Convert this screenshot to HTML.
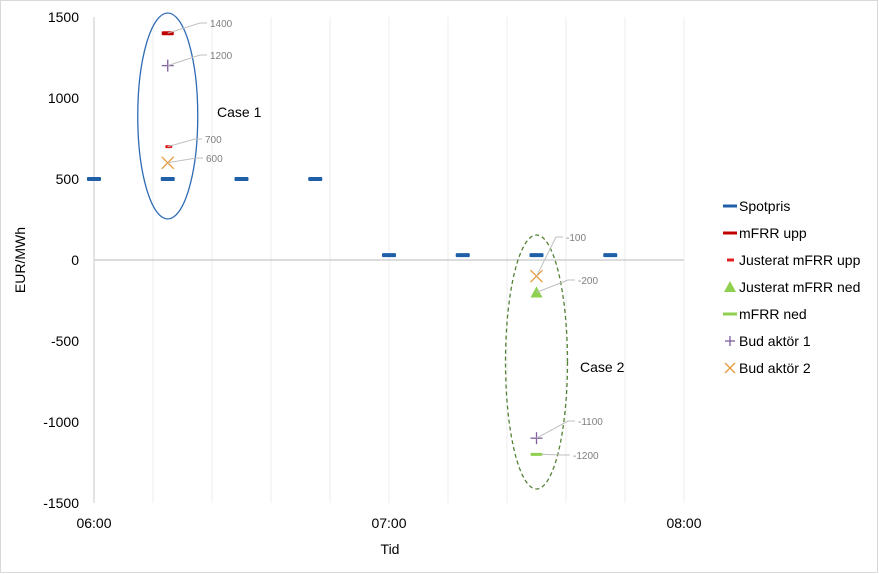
<!DOCTYPE html>
<html><head><meta charset="utf-8"><style>
html,body{margin:0;padding:0;background:#fff;}
svg{display:block;font-family:"Liberation Sans",sans-serif;}
</style></head><body>
<svg id="c" width="879" height="574" viewBox="0 0 879 574" xmlns="http://www.w3.org/2000/svg">
<rect x="0.5" y="0.5" width="877" height="572" fill="#fff" stroke="#d9d9d9"/>
<g id="grid"></g>
<g id="axes"></g>
<g id="marks"></g>
<g id="legend"></g>
</svg>
<script>
const yTicks=[1500,1000,500,0,-500,-1000,-1500];
const xTickMinutes=[0,60,120];
const xTickLabels=["06:00","07:00","08:00"];
const spotTimes=[0,15,30,45,60,75,90,105];
const spotValues=[500,500,500,500,30,30,30,30];
const mfrrUppTimes=[15];const mfrrUppValues=[1400];
const justUppTimes=[15];const justUppValues=[700];
const justNedTimes=[90];const justNedValues=[-200];
const mfrrNedTimes=[90];const mfrrNedValues=[-1200];
const bud1Times=[15,90];const bud1Values=[1200,-1100];
const bud2Times=[15,90];const bud2Values=[600,-100];

const NS="http://www.w3.org/2000/svg";
const X=m=>94+m*295/60;
const Y=v=>260-v*243/1500;
function mk(tag,attrs,parent){const e=document.createElementNS(NS,tag);for(const k in attrs)e.setAttribute(k,attrs[k]);parent.appendChild(e);return e;}
const grid=document.getElementById('grid'),axes=document.getElementById('axes'),marks=document.getElementById('marks'),legend=document.getElementById('legend');

for(let m=12;m<=120;m+=12){
  const l=mk('line',{x1:X(m),x2:X(m),y1:Y(1500),y2:Y(-1500),stroke:'#ececec','stroke-width':1},grid);
  
  
}
let a=mk('line',{x1:X(0),x2:X(0),y1:Y(1500),y2:Y(-1500),stroke:'#c8c8c8','stroke-width':1},axes);


a=mk('line',{x1:X(0),x2:X(120),y1:Y(0),y2:Y(0),stroke:'#d0d0d0','stroke-width':1.5},axes);


yTicks.forEach(v=>{const t=mk('text',{x:79,y:Y(v)+5,'text-anchor':'end','font-size':14,fill:'#000'},axes);t.textContent=v;
  
  });
xTickMinutes.forEach((m,i)=>{const t=mk('text',{x:X(m),y:528,'text-anchor':'middle','font-size':14,fill:'#000'},axes);t.textContent=xTickLabels[i];
  
  });
let t=mk('text',{x:390,y:554,'text-anchor':'middle','font-size':14},axes);t.textContent='Tid';


t=mk('text',{x:0,y:0,'text-anchor':'middle','font-size':14,transform:'translate(25,260) rotate(-90)'},axes);t.textContent='EUR/MWh';



function dash(x,y,c,w,h,name){const r=mk('rect',{x:x-w/2,y:y-h/2,width:w,height:h,fill:c,rx:1},marks);
  
  return r;}
function plus(x,y,c,s,name,p){const g=mk('g',{stroke:c,'stroke-width':1.3},p||marks);
  mk('line',{x1:x-s,x2:x+s,y1:y,y2:y},g);mk('line',{x1:x,x2:x,y1:y-s,y2:y+s},g);
  
  }
function cross(x,y,c,s,name,p){const g=mk('g',{stroke:c,'stroke-width':1.3},p||marks);
  mk('line',{x1:x-s,x2:x+s,y1:y-s,y2:y+s},g);mk('line',{x1:x-s,x2:x+s,y1:y+s,y2:y-s},g);
  
  }
function tri(x,y,c,s,name,p){const e=mk('polygon',{points:`${x},${y-s} ${x+s},${y+s*0.85} ${x-s},${y+s*0.85}`,fill:c},p||marks);
  
  }
function label(px,py,lx,ly,txt){
  const g=mk('g',{},marks);
  mk('polyline',{points:`${px},${py} ${lx-10},${ly} ${lx-3},${ly}`,fill:'none',stroke:'#bfbfbf','stroke-width':1},g);
  const tt=mk('text',{x:lx,y:ly+4,'font-size':10,fill:'#7f7f7f'},g);tt.textContent=txt;
  
  }

// ellipses
let e=mk('ellipse',{cx:X(15),cy:116,rx:30,ry:103,fill:'none',stroke:'#2e6bb3','stroke-width':1.3},marks);


e=mk('ellipse',{cx:X(90),cy:362,rx:31,ry:127,fill:'none',stroke:'#548235','stroke-width':1.3,'stroke-dasharray':'4 3'},marks);


t=mk('text',{x:217,y:117,'font-size':14},marks);t.textContent='Case 1';


t=mk('text',{x:580,y:372,'font-size':14},marks);t.textContent='Case 2';



spotTimes.forEach((m,i)=>dash(X(m),Y(spotValues[i]),'#1f5fa8',14,4,'spotpris-point'));
mfrrUppTimes.forEach((m,i)=>{dash(X(m),Y(mfrrUppValues[i]),'#c00000',12,4,'mfrr-upp-point');label(X(m),Y(mfrrUppValues[i]),210,23,mfrrUppValues[i]);});
justUppTimes.forEach((m,i)=>{dash(X(m)+1,Y(justUppValues[i]),'#e02020',7,3,'justerat-mfrr-upp-point');label(X(m),Y(justUppValues[i]),205,139,justUppValues[i]);});
bud1Times.forEach((m,i)=>plus(X(m),Y(bud1Values[i]),'#7f5f9f',6,'bud-aktor-1-point'));
label(X(bud1Times[0]),Y(bud1Values[0]),210,55,bud1Values[0]);
label(X(bud1Times[1]),Y(bud1Values[1]),578,421,bud1Values[1]);
bud2Times.forEach((m,i)=>cross(X(m),Y(bud2Values[i]),'#e59a3c',6,'bud-aktor-2-point'));
label(X(bud2Times[0]),Y(bud2Values[0]),206,158,bud2Values[0]);
label(X(bud2Times[1]),Y(bud2Values[1]),566,237,bud2Values[1]);
justNedTimes.forEach((m,i)=>{tri(X(m),Y(justNedValues[i]),'#8fd14f',6,'justerat-mfrr-ned-point');label(X(m),Y(justNedValues[i]),578,280,justNedValues[i]);});
mfrrNedTimes.forEach((m,i)=>{dash(X(m),Y(mfrrNedValues[i]),'#8fd14f',12,3,'mfrr-ned-point');label(X(m)+5,Y(mfrrNedValues[i]),573,455,mfrrNedValues[i]);});

// legend
const legNames=['Spotpris','mFRR upp','Justerat mFRR upp','Justerat mFRR ned','mFRR ned','Bud aktör 1','Bud aktör 2'];
const legY=[206,233,260,287,314,341,368];
legNames.forEach((n,i)=>{
  const g=mk('g',{},legend);
  
  
  const y=legY[i],x=730;
  if(i===0)mk('rect',{x:x-7,y:y-1.5,width:14,height:3,fill:'#1f5fa8'},g);
  if(i===1)mk('rect',{x:x-7,y:y-1.5,width:14,height:3,fill:'#c00000'},g);
  if(i===2)mk('rect',{x:x-3,y:y-1.5,width:7,height:3,fill:'#e02020'},g);
  if(i===3)mk('polygon',{points:`${x},${y-6} ${x+6},${y+5} ${x-6},${y+5}`,fill:'#8fd14f'},g);
  if(i===4)mk('rect',{x:x-7,y:y-1.5,width:14,height:3,fill:'#8fd14f'},g);
  if(i===5){const q=mk('g',{stroke:'#7f5f9f','stroke-width':1.3},g);mk('line',{x1:x-5,x2:x+5,y1:y,y2:y},q);mk('line',{x1:x,x2:x,y1:y-5,y2:y+5},q);}
  if(i===6){const q=mk('g',{stroke:'#e59a3c','stroke-width':1.3},g);mk('line',{x1:x-5,x2:x+5,y1:y-5,y2:y+5},q);mk('line',{x1:x-5,x2:x+5,y1:y+5,y2:y-5},q);}
  const tx=mk('text',{x:739,y:y+5,'font-size':14},g);tx.textContent=n;
});
</script>
</body></html>
